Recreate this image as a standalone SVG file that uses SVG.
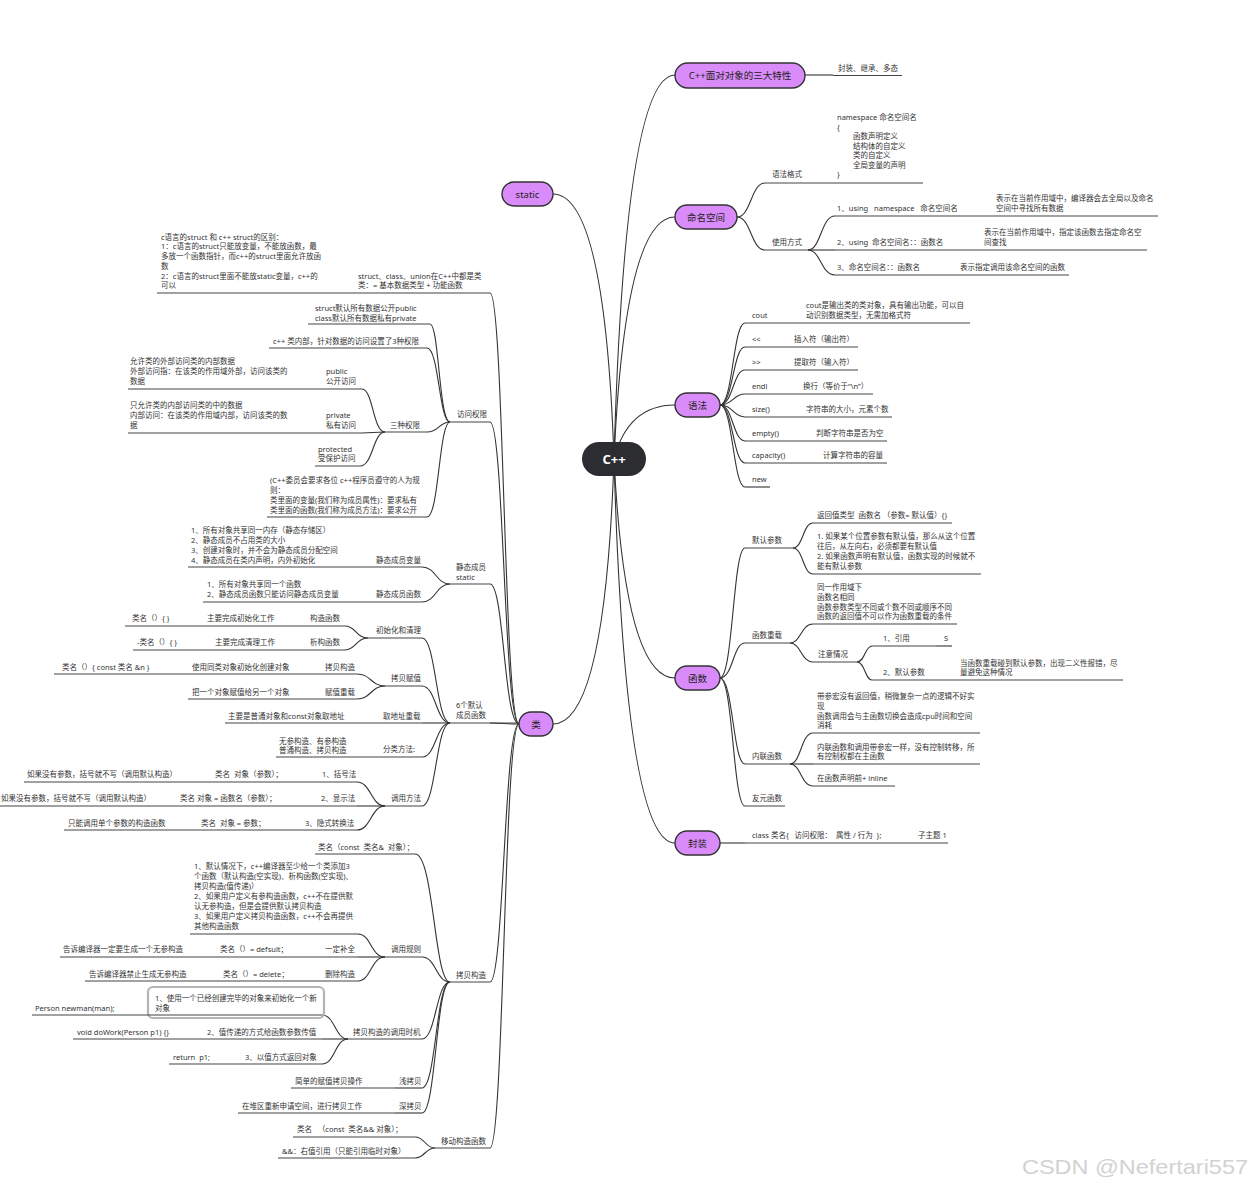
<svg xmlns="http://www.w3.org/2000/svg" width="1252" height="1188" viewBox="0 0 1252 1188">
<style>
text{font-family:"Noto Sans","Noto Sans CJK SC",sans-serif;white-space:pre;fill:#333}
.t{font-size:7.5px}
.n{font-size:9.5px;fill:#222;text-anchor:middle}
.root{font-size:13px;font-weight:bold;fill:#fff;text-anchor:middle}
.u{stroke:#444;stroke-width:1.2;fill:none}
.c{stroke:#333;stroke-width:1.1;fill:none}
.pn{fill:#d98cf9;stroke:#333;stroke-width:1.4}
.wm{font-family:"Liberation Sans",sans-serif;font-size:21px;fill:#d2d2d2}
</style>
<rect width="1252" height="1188" fill="#fff"/>
<g id="connectors">
<path class="c" d="M614 459 Q625 75 675 75"/>
<path class="c" d="M614 459 Q625 217 675 217"/>
<path class="c" d="M614 459 Q628 405 675 405"/>
<path class="c" d="M614 459 Q625 678 675 678"/>
<path class="c" d="M614 459 Q625 843 675 843"/>
<path class="c" d="M614 459 Q605 194 553 194"/>
<path class="c" d="M614 459 Q605 724 553 724"/>
<path class="c" d="M805 75 H833"/>
<path class="c" d="M737 217 C751 217 751 183 765 183"/>
<path class="c" d="M737 217 C751 217 751 250 765 250"/>
<path class="c" d="M808 250 C821 250 821 216 835 216"/>
<path class="c" d="M808 250 H835"/>
<path class="c" d="M808 250 C821 250 821 275 835 275"/>
<path class="c" d="M720 405 C733 405 733 323 745 323"/>
<path class="c" d="M720 405 C733 405 733 347 745 347"/>
<path class="c" d="M720 405 C733 405 733 370 745 370"/>
<path class="c" d="M720 405 C733 405 733 394 745 394"/>
<path class="c" d="M720 405 C733 405 733 417 745 417"/>
<path class="c" d="M720 405 C733 405 733 441 745 441"/>
<path class="c" d="M720 405 C733 405 733 463 745 463"/>
<path class="c" d="M720 405 C733 405 733 487 745 487"/>
<path class="c" d="M720 678 C733 678 733 548 745 548"/>
<path class="c" d="M720 678 C733 678 733 643 745 643"/>
<path class="c" d="M720 678 C733 678 733 764 745 764"/>
<path class="c" d="M720 678 C733 678 733 806 745 806"/>
<path class="c" d="M793 548 C803 548 803 523 813 523"/>
<path class="c" d="M793 548 C803 548 803 574 813 574"/>
<path class="c" d="M790 643 C801 643 801 624 813 624"/>
<path class="c" d="M790 643 C801 643 801 662 813 662"/>
<path class="c" d="M857 662 C865 662 865 646 872 646"/>
<path class="c" d="M857 662 C865 662 865 680 872 680"/>
<path class="c" d="M790 764 C801 764 801 733 813 733"/>
<path class="c" d="M790 764 H813"/>
<path class="c" d="M790 764 C801 764 801 786 813 786"/>
<path class="c" d="M720 843 H745"/>
<path class="c" d="M519 724 C504 724 504 293 490 293"/>
<path class="c" d="M519 724 C504 724 504 422 490 422"/>
<path class="c" d="M519 724 C504 724 504 584 490 584"/>
<path class="c" d="M519 724 C504 724 504 723 490 723"/>
<path class="c" d="M519 724 C504 724 504 982 490 982"/>
<path class="c" d="M519 724 C504 724 504 1148 490 1148"/>
<path class="c" d="M450 422 C439 422 439 324 430 324"/>
<path class="c" d="M450 422 C439 422 439 348 427 348"/>
<path class="c" d="M450 422 C439 422 439 432 427 432"/>
<path class="c" d="M450 422 C439 422 439 517 427 517"/>
<path class="c" d="M385 432 C373 432 373 389 362 389"/>
<path class="c" d="M385 432 C373 432 373 433 362 433"/>
<path class="c" d="M385 432 C373 432 373 466 360 466"/>
<path class="c" d="M450 584 C436 584 436 567 422 567"/>
<path class="c" d="M450 584 C436 584 436 602 422 602"/>
<path class="c" d="M450 723 C436 723 436 638 422 638"/>
<path class="c" d="M450 723 C436 723 436 686 422 686"/>
<path class="c" d="M450 723 H422"/>
<path class="c" d="M450 723 C436 723 436 757 422 757"/>
<path class="c" d="M450 723 C436 723 436 806 422 806"/>
<path class="c" d="M368 638 C356 638 356 626 345 626"/>
<path class="c" d="M368 638 C356 638 356 650 345 650"/>
<path class="c" d="M385 686 C371 686 371 674 357 674"/>
<path class="c" d="M385 686 C371 686 371 699 357 699"/>
<path class="c" d="M385 806 C371 806 371 782 357 782"/>
<path class="c" d="M385 806 H357"/>
<path class="c" d="M385 806 C371 806 371 830 357 830"/>
<path class="c" d="M450 982 C434 982 434 854 415 854"/>
<path class="c" d="M450 982 C436 982 436 957 422 957"/>
<path class="c" d="M450 982 C436 982 436 1039 422 1039"/>
<path class="c" d="M450 982 C436 982 436 1088 422 1088"/>
<path class="c" d="M450 982 C436 982 436 1113 422 1113"/>
<path class="c" d="M385 957 C371 957 371 934 358 934"/>
<path class="c" d="M385 957 H358"/>
<path class="c" d="M385 957 C371 957 371 981 358 981"/>
<path class="c" d="M348 1039 C335 1039 335 1015 322 1015"/>
<path class="c" d="M348 1039 H322"/>
<path class="c" d="M348 1039 C335 1039 335 1064 322 1064"/>
<path class="c" d="M435 1148 C425 1148 425 1137 415 1137"/>
<path class="c" d="M435 1148 C425 1148 425 1158 415 1158"/>
</g>

<g id="root"><rect x="582" y="442" width="64" height="34" rx="17" fill="#2b2d31"/><text class="root" x="614" y="464">C++</text></g>
<g id="n-oop"><rect class="pn" x="675" y="63" width="130" height="25" rx="12.5"/><text class="n" x="740" y="79">C++面对对象的三大特性</text></g>
<g id="n-ns"><rect class="pn" x="675" y="205" width="62" height="24" rx="12"/><text class="n" x="706" y="220.5">命名空间</text></g>
<g id="n-syntax"><rect class="pn" x="675" y="393" width="45" height="24" rx="12"/><text class="n" x="697.5" y="408.5">语法</text></g>
<g id="n-func"><rect class="pn" x="675" y="666" width="45" height="24" rx="12"/><text class="n" x="697.5" y="681.5">函数</text></g>
<g id="n-encap"><rect class="pn" x="675" y="831" width="45" height="24" rx="12"/><text class="n" x="697.5" y="846.5">封装</text></g>
<g id="n-static"><rect class="pn" x="502" y="182" width="51" height="24" rx="12"/><text class="n" x="527.5" y="197.5">static</text></g>
<g id="n-class"><rect class="pn" x="519" y="712" width="34" height="24" rx="12"/><text class="n" x="536" y="727.5">类</text></g>

<g id="n-oop-1"><path class="u" d="M833 75.5 H902"/><text class="t" x="838" y="71">封装、继承、多态</text></g>

<g id="n-ns-fmt"><path class="u" d="M765 183 H835"/><text class="t" x="772" y="177">语法格式</text></g>
<g id="n-ns-fmt-1"><path class="u" d="M835 183 H923"/>
<text class="t" x="837" y="120">namespace 命名空间名</text><text class="t" x="837" y="129.5">{</text>
<text class="t" x="853" y="139">函数声明定义</text><text class="t" x="853" y="148.5">结构体的自定义</text><text class="t" x="853" y="158">类的自定义</text><text class="t" x="853" y="167.5">全局变量的声明</text><text class="t" x="837" y="177">}</text></g>
<g id="n-ns-use"><path class="u" d="M765 250 H808"/><text class="t" x="772" y="245">使用方式</text></g>
<g id="n-ns-u1"><path class="u" d="M835 216 H967"/><text class="t" x="837" y="211">1、using   namespace   命名空间名</text></g>
<g id="n-ns-u1a"><path class="u" d="M967 216 H1158"/><text class="t" x="996" y="201">表示在当前作用域中，编译器会去全局以及命名</text><text class="t" x="996" y="211">空间中寻找所有数据</text></g>
<g id="n-ns-u2"><path class="u" d="M835 250 H980"/><text class="t" x="837" y="245">2、using  命名空间名：：函数名</text></g>
<g id="n-ns-u2a"><path class="u" d="M980 250 H1147"/><text class="t" x="984" y="235">表示在当前作用域中，指定该函数去指定命名空</text><text class="t" x="984" y="245">间查找</text></g>
<g id="n-ns-u3"><path class="u" d="M835 275 H955"/><text class="t" x="837" y="270">3、命名空间名：：函数名</text></g>
<g id="n-ns-u3a"><path class="u" d="M955 275 H1069"/><text class="t" x="960" y="270">表示指定调用该命名空间的函数</text></g>

<g id="n-cout"><path class="u" d="M745 323 H803"/><text class="t" x="752" y="318">cout</text></g>
<g id="n-cout-1"><path class="u" d="M803 323 H970"/><text class="t" x="806" y="308">cout是输出类的类对象，具有输出功能，可以自</text><text class="t" x="806" y="318">动识别数据类型，无需加格式符</text></g>
<g id="n-ins"><path class="u" d="M745 347 H790"/><text class="t" x="752" y="342">&lt;&lt;</text></g>
<g id="n-ins-1"><path class="u" d="M790 347 H858"/><text class="t" x="794" y="342">插入符（输出符）</text></g>
<g id="n-ext"><path class="u" d="M745 370 H790"/><text class="t" x="752" y="365">&gt;&gt;</text></g>
<g id="n-ext-1"><path class="u" d="M790 370 H858"/><text class="t" x="794" y="365">提取符（输入符）</text></g>
<g id="n-endl"><path class="u" d="M745 394 H800"/><text class="t" x="752" y="389">endl</text></g>
<g id="n-endl-1"><path class="u" d="M800 394 H873"/><text class="t" x="803" y="389">换行（等价于“\n”）</text></g>
<g id="n-size"><path class="u" d="M745 417 H803"/><text class="t" x="752" y="412">size()</text></g>
<g id="n-size-1"><path class="u" d="M803 417 H892"/><text class="t" x="806" y="412">字符串的大小，元素个数</text></g>
<g id="n-empty"><path class="u" d="M745 441 H812"/><text class="t" x="752" y="436">empty()</text></g>
<g id="n-empty-1"><path class="u" d="M812 441 H887"/><text class="t" x="816" y="436">判断字符串是否为空</text></g>
<g id="n-cap"><path class="u" d="M745 463 H819"/><text class="t" x="752" y="458">capacity()</text></g>
<g id="n-cap-1"><path class="u" d="M819 463 H887"/><text class="t" x="823" y="458">计算字符串的容量</text></g>
<g id="n-new"><path class="u" d="M745 487 H770"/><text class="t" x="752" y="482">new</text></g>

<g id="n-def"><path class="u" d="M745 548 H793"/><text class="t" x="752" y="543">默认参数</text></g>
<g id="n-def-1"><path class="u" d="M813 523 H952"/><text class="t" x="817" y="518">返回值类型  函数名 （参数= 默认值）{}</text></g>
<g id="n-def-2"><path class="u" d="M813 574 H981"/><text class="t" x="817" y="539">1. 如果某个位置参数有默认值，那么从这个位置</text><text class="t" x="817" y="549">往后，从左向右，必须都要有默认值</text><text class="t" x="817" y="559">2. 如果函数声明有默认值，函数实现的时候就不</text><text class="t" x="817" y="569">能有默认参数</text></g>
<g id="n-ovl"><path class="u" d="M745 643 H790"/><text class="t" x="752" y="638">函数重载</text></g>
<g id="n-ovl-1"><path class="u" d="M813 624 H957"/><text class="t" x="817" y="590">同一作用域下</text><text class="t" x="817" y="600">函数名相同</text><text class="t" x="817" y="610">函数参数类型不同或个数不同或顺序不同</text><text class="t" x="817" y="619">函数的返回值不可以作为函数重载的条件</text></g>
<g id="n-ovl-2"><path class="u" d="M813 662 H857"/><text class="t" x="818" y="657">注意情况</text></g>
<g id="n-ovl-2a"><path class="u" d="M872 646 H936"/><text class="t" x="883" y="641">1、引用</text></g>
<g id="n-ovl-2a1"><path class="u" d="M936 646 H952"/><text class="t" x="944" y="641">S</text></g>
<g id="n-ovl-2b"><path class="u" d="M872 680 H957"/><text class="t" x="883" y="675">2、默认参数</text></g>
<g id="n-ovl-2b1"><path class="u" d="M957 680 H1123"/><text class="t" x="960" y="666">当函数重载碰到默认参数，出现二义性报错，尽</text><text class="t" x="960" y="675">量避免这种情况</text></g>
<g id="n-inl"><path class="u" d="M745 764 H790"/><text class="t" x="752" y="759">内联函数</text></g>
<g id="n-inl-1"><path class="u" d="M813 733 H980"/><text class="t" x="817" y="699">带参宏没有返回值，稍微复杂一点的逻辑不好实</text><text class="t" x="817" y="709">现</text><text class="t" x="817" y="719">函数调用会与主函数切换会造成cpu时间和空间</text><text class="t" x="817" y="728">消耗</text></g>
<g id="n-inl-2"><path class="u" d="M813 764 H980"/><text class="t" x="817" y="750">内联函数和调用带参宏一样，没有控制转移，所</text><text class="t" x="817" y="759">有控制权都在主函数</text></g>
<g id="n-inl-3"><path class="u" d="M813 786 H895"/><text class="t" x="817" y="781">在函数声明前+ inline</text></g>
<g id="n-friend"><path class="u" d="M745 806 H785"/><text class="t" x="752" y="801">友元函数</text></g>

<g id="n-enc-1"><path class="u" d="M745 843 H913"/><text class="t" x="752" y="838">class 类名{   访问权限：  属性 / 行为  };</text></g>
<g id="n-enc-1a"><path class="u" d="M913 843 H948"/><text class="t" x="918" y="838">子主题 1</text></g>

<g id="n-cls-struct"><path class="u" d="M355 293 H490"/><text class="t" x="358" y="279">struct、class、union在C++中都是类</text><text class="t" x="358" y="288">类：= 基本数据类型 + 功能函数</text></g>
<g id="n-cls-struct-1"><path class="u" d="M157 293 H355"/><text class="t" x="161" y="240">c语言的struct 和 c++ struct的区别：</text><text class="t" x="161" y="249">1：c语言的struct只能放变量，不能放函数，最</text><text class="t" x="161" y="259">多放一个函数指针，而c++的struct里面允许放函</text><text class="t" x="161" y="269">数</text><text class="t" x="161" y="279">2：c语言的struct里面不能放static变量，c++的</text><text class="t" x="161" y="288">可以</text></g>

<g id="n-acc"><path class="u" d="M450 422 H490"/><text class="t" x="457" y="417">访问权限</text></g>
<g id="n-acc-1"><path class="u" d="M308 324 H430"/><text class="t" x="315" y="311">struct默认所有数据公开public</text><text class="t" x="315" y="321">class默认所有数据私有private</text></g>
<g id="n-acc-2"><path class="u" d="M269 348 H427"/><text class="t" x="273" y="344">c++ 类内部，针对数据的访问设置了3种权限</text></g>
<g id="n-acc-3"><path class="u" d="M385 432 H427"/><text class="t" x="390" y="428">三种权限</text></g>
<g id="n-pub"><path class="u" d="M320 389 H362"/><text class="t" x="326" y="374">public</text><text class="t" x="326" y="384">公开访问</text></g>
<g id="n-pub-1"><path class="u" d="M128 389 H320"/><text class="t" x="130" y="364">允许类的外部访问类的内部数据</text><text class="t" x="130" y="374">外部访问指：在该类的作用域外部，访问该类的</text><text class="t" x="130" y="384">数据</text></g>
<g id="n-pri"><path class="u" d="M320 433 H362"/><text class="t" x="326" y="418">private</text><text class="t" x="326" y="428">私有访问</text></g>
<g id="n-pri-1"><path class="u" d="M128 433 H320"/><text class="t" x="130" y="408">只允许类的内部访问类的中的数据</text><text class="t" x="130" y="418">内部访问：在该类的作用域内部，访问该类的数</text><text class="t" x="130" y="428">据</text></g>
<g id="n-pro"><path class="u" d="M315 466 H360"/><text class="t" x="318" y="452">protected</text><text class="t" x="318" y="461">受保护访问</text></g>
<g id="n-acc-4"><path class="u" d="M267 517 H427"/><text class="t" x="270" y="483">(C++委员会要求各位 c++程序员遵守的人为规</text><text class="t" x="270" y="493">则：</text><text class="t" x="270" y="503">类里面的变量(我们称为成员属性)：要求私有</text><text class="t" x="270" y="513">类里面的函数(我们称为成员方法)：要求公开</text></g>

<g id="n-stat"><path class="u" d="M450 584 H490"/><text class="t" x="456" y="570">静态成员</text><text class="t" x="456" y="580">static</text></g>
<g id="n-stat-v"><path class="u" d="M370 567 H422"/><text class="t" x="376" y="563">静态成员变量</text></g>
<g id="n-stat-v1"><path class="u" d="M188 567 H370"/><text class="t" x="191" y="533">1、所有对象共享同一内存（静态存储区）</text><text class="t" x="191" y="543">2、静态成员不占用类的大小</text><text class="t" x="191" y="553">3、创建对象时，并不会为静态成员分配空间</text><text class="t" x="191" y="563">4、静态成员在类内声明，内外初始化</text></g>
<g id="n-stat-f"><path class="u" d="M370 602 H422"/><text class="t" x="376" y="597">静态成员函数</text></g>
<g id="n-stat-f1"><path class="u" d="M203 602 H370"/><text class="t" x="207" y="587">1、所有对象共享同一个函数</text><text class="t" x="207" y="597">2、静态成员函数只能访问静态成员变量</text></g>

<g id="n-six"><path class="u" d="M450 723 H519"/><text class="t" x="456" y="708">6个默认</text><text class="t" x="456" y="718">成员函数</text></g>
<g id="n-init"><path class="u" d="M368 638 H422"/><text class="t" x="376" y="633">初始化和清理</text></g>
<g id="n-ctor"><path class="u" d="M305 626 H345"/><text class="t" x="310" y="621">构造函数</text></g>
<g id="n-ctor-1"><path class="u" d="M200 626 H305"/><text class="t" x="207" y="621">主要完成初始化工作</text></g>
<g id="n-ctor-2"><path class="u" d="M125 626 H200"/><text class="t" x="132" y="621">类名（）{ }</text></g>
<g id="n-dtor"><path class="u" d="M305 650 H345"/><text class="t" x="310" y="645">析构函数</text></g>
<g id="n-dtor-1"><path class="u" d="M210 650 H305"/><text class="t" x="215" y="645">主要完成清理工作</text></g>
<g id="n-dtor-2"><path class="u" d="M133 650 H210"/><text class="t" x="137" y="645">-类名（）{ }</text></g>
<g id="n-cpa"><path class="u" d="M385 686 H422"/><text class="t" x="391" y="681">拷贝赋值</text></g>
<g id="n-cpc"><path class="u" d="M320 674 H357"/><text class="t" x="325" y="670">拷贝构造</text></g>
<g id="n-cpc-1"><path class="u" d="M188 674 H320"/><text class="t" x="192" y="670">使用同类对象初始化创建对象</text></g>
<g id="n-cpc-2"><path class="u" d="M54 674 H188"/><text class="t" x="62" y="670">类名（）{ const 类名 &amp;n }</text></g>
<g id="n-asg"><path class="u" d="M320 699 H357"/><text class="t" x="325" y="695">赋值重载</text></g>
<g id="n-asg-1"><path class="u" d="M188 699 H320"/><text class="t" x="192" y="695">把一个对象赋值给另一个对象</text></g>
<g id="n-addr"><path class="u" d="M378 723 H422"/><text class="t" x="383" y="719">取地址重载</text></g>
<g id="n-addr-1"><path class="u" d="M225 723 H378"/><text class="t" x="228" y="719">主要是普通对象和const对象取地址</text></g>
<g id="n-kind"><path class="u" d="M378 757 H422"/><text class="t" x="383" y="752">分类方法:</text></g>
<g id="n-kind-1"><path class="u" d="M276 757 H378"/><text class="t" x="279" y="744">无参构造、有参构造</text><text class="t" x="279" y="753">普通构造、拷贝构造</text></g>
<g id="n-call"><path class="u" d="M385 806 H422"/><text class="t" x="391" y="801">调用方法</text></g>
<g id="n-call-1"><path class="u" d="M318 782 H357"/><text class="t" x="322" y="777">1、括号法</text></g>
<g id="n-call-1a"><path class="u" d="M210 782 H318"/><text class="t" x="215" y="777">类名  对象（参数）；</text></g>
<g id="n-call-1b"><path class="u" d="M24 782 H210"/><text class="t" x="27" y="777">如果没有参数，括号就不写（调用默认构造）</text></g>
<g id="n-call-2"><path class="u" d="M318 806 H357"/><text class="t" x="321" y="801">2、显示法</text></g>
<g id="n-call-2a"><path class="u" d="M176 806 H318"/><text class="t" x="180" y="801">类名 对象 = 函数名（参数）；</text></g>
<g id="n-call-2b"><path class="u" d="M0 806 H176"/><text class="t" x="1" y="801">如果没有参数，括号就不写（调用默认构造）</text></g>
<g id="n-call-3"><path class="u" d="M300 830 H357"/><text class="t" x="305" y="826">3、隐式转换法</text></g>
<g id="n-call-3a"><path class="u" d="M197 830 H300"/><text class="t" x="201" y="826">类名  对象 = 参数；</text></g>
<g id="n-call-3b"><path class="u" d="M64 830 H197"/><text class="t" x="68" y="826">只能调用单个参数的构造函数</text></g>

<g id="n-copy"><path class="u" d="M450 982 H490"/><text class="t" x="456" y="978">拷贝构造</text></g>
<g id="n-copy-1"><path class="u" d="M315 854 H415"/><text class="t" x="318" y="850">类名（const  类名&amp;  对象）；</text></g>
<g id="n-rule"><path class="u" d="M385 957 H422"/><text class="t" x="391" y="952">调用规则</text></g>
<g id="n-rule-1"><path class="u" d="M190 934 H358"/><text class="t" x="194" y="869">1、默认情况下，c++编译器至少给一个类添加3</text><text class="t" x="194" y="879">个函数（默认构造(空实现)、析构函数(空实现)、</text><text class="t" x="194" y="889">拷贝构造(值传递)）</text><text class="t" x="194" y="899">2、如果用户定义有参构造函数，c++不在提供默</text><text class="t" x="194" y="909">认无参构造，但是会提供默认拷贝构造</text><text class="t" x="194" y="919">3、如果用户定义拷贝构造函数，c++不会再提供</text><text class="t" x="194" y="929">其他构造函数</text></g>
<g id="n-rule-2"><path class="u" d="M320 957 H358"/><text class="t" x="325" y="952">一定补全</text></g>
<g id="n-rule-2a"><path class="u" d="M215 957 H320"/><text class="t" x="220" y="952">类名（）= defsult；</text></g>
<g id="n-rule-2b"><path class="u" d="M60 957 H215"/><text class="t" x="63" y="952">告诉编译器一定要生成一个无参构造</text></g>
<g id="n-rule-3"><path class="u" d="M320 981 H358"/><text class="t" x="325" y="977">删除构造</text></g>
<g id="n-rule-3a"><path class="u" d="M218 981 H320"/><text class="t" x="223" y="977">类名（）= delete；</text></g>
<g id="n-rule-3b"><path class="u" d="M85 981 H218"/><text class="t" x="89" y="977">告诉编译器禁止生成无参构造</text></g>
<g id="n-when"><path class="u" d="M348 1039 H422"/><text class="t" x="353" y="1035">拷贝构造的调用时机</text></g>
<g id="n-when-1"><path class="u" d="M150 1015 H322"/><rect x="148" y="987" width="176" height="31" rx="5" fill="none" stroke="#b4b4b4" stroke-width="2.2"/><text class="t" x="155" y="1001">1、使用一个已经创建完毕的对象来初始化一个新</text><text class="t" x="155" y="1011">对象</text></g>
<g id="n-when-1a"><path class="u" d="M32 1015 H150"/><text class="t" x="35" y="1011">Person newman(man);</text></g>
<g id="n-when-2"><path class="u" d="M203 1039 H322"/><text class="t" x="207" y="1035">2、值传递的方式给函数参数传值</text></g>
<g id="n-when-2a"><path class="u" d="M73 1039 H203"/><text class="t" x="77" y="1035">void doWork(Person p1) {}</text></g>
<g id="n-when-3"><path class="u" d="M240 1064 H322"/><text class="t" x="245" y="1060">3、以值方式返回对象</text></g>
<g id="n-when-3a"><path class="u" d="M169 1064 H240"/><text class="t" x="173" y="1060">return  p1;</text></g>
<g id="n-shallow"><path class="u" d="M395 1088 H422"/><text class="t" x="399" y="1084">浅拷贝</text></g>
<g id="n-shallow-1"><path class="u" d="M291 1088 H395"/><text class="t" x="295" y="1084">简单的赋值拷贝操作</text></g>
<g id="n-deep"><path class="u" d="M395 1113 H422"/><text class="t" x="399" y="1109">深拷贝</text></g>
<g id="n-deep-1"><path class="u" d="M238 1113 H395"/><text class="t" x="242" y="1109">在堆区重新申请空间，进行拷贝工作</text></g>

<g id="n-move"><path class="u" d="M435 1148 H490"/><text class="t" x="441" y="1144">移动构造函数</text></g>
<g id="n-move-1"><path class="u" d="M293 1137 H415"/><text class="t" x="297" y="1132">类名   （const  类名&amp;&amp; 对象）；</text></g>
<g id="n-move-2"><path class="u" d="M278 1158 H415"/><text class="t" x="282" y="1154">&amp;&amp;：右值引用（只能引用临时对象）</text></g>

<text class="wm" x="1022" y="1174" textLength="226" lengthAdjust="spacingAndGlyphs">CSDN @Nefertari557</text>
</svg>
